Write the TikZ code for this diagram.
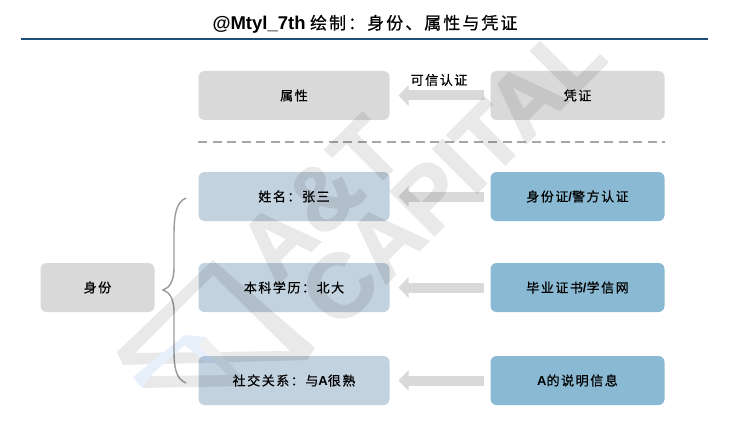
\documentclass[tikz,border=0pt]{standalone}
\usepackage{xcolor}
\usepackage{fontspec}
\setmainfont{Noto Sans CJK SC}[LetterSpace=12,FakeBold=0.6]
\newfontfamily\latfont{Liberation Sans Bold}
\newfontfamily\markfont{Liberation Sans Bold}[FakeBold=2]
\usetikzlibrary{arrows.meta,positioning}
\definecolor{Rule}{HTML}{1F4E79}
\definecolor{GreyF}{HTML}{D9D9D9}
\definecolor{PaleF}{HTML}{C3D2DF}
\definecolor{BlueF}{HTML}{8ABAD3}
\definecolor{Brace}{HTML}{999999}
\definecolor{Mark}{HTML}{E9E9E9}
\definecolor{MarkB}{HTML}{E6EFFA}

\begin{document}
\begin{tikzpicture}[x=1pt,y=-1pt,font=\fontsize{13}{15}\selectfont,
    box/.style={rounded corners=6pt,minimum height=49pt,text=black,inner sep=0pt,outer sep=0pt},
    attr/.style={box,fill=PaleF,minimum width=191pt},
    cred/.style={box,fill=BlueF,minimum width=174pt},
    plain/.style={box,fill=GreyF},
    flow/.style={line width=10pt,color=GreyF,-{Triangle[length=10pt,width=20pt]},shorten <=7pt,shorten >=9pt},
    wmark/.style={font=\fontsize{90}{90}\selectfont\markfont,text=Mark,rotate=45}]
  \useasboundingbox (0,0) rectangle (733,433);
  % title
  \node (title) at (365,24) {{\fontsize{18.5}{20}\selectfont\latfont @Mtyl\_7th}\ \fontsize{17}{20}\selectfont 绘制：身份、属性与凭证};
  \coordinate (ruleL) at (21,39.5);
  \coordinate (ruleR) at (708,39.5);
  \draw[Rule,line width=2pt] (ruleL) -- (ruleR);
  % boxes
  \node[plain,minimum width=191pt] (attrTop) at (294,95.5) {属性};
  \node[plain,minimum width=174pt,right=101pt of attrTop] (credTop) {凭证};
  \node[attr,below=52pt of attrTop] (name) {姓名：张三};
  \node[attr,below=42pt of name] (degree) {本科学历：北大};
  \node[attr,below=44pt of degree] (social) {社交关系：与{\latfont A}很熟};
  \node[cred,right=101pt of name] (idcard) {身份证{\latfont /}警方认证};
  \node[cred,right=101pt of degree] (diploma) {毕业证书{\latfont /}学信网};
  \node[cred,right=101pt of social] (proof) {{\latfont A}的说明信息};
  \node[plain,minimum width=114pt,left=44pt of degree] (identity) {身份};
  % arrows
  \draw[flow] (credTop) -- (attrTop);
  \draw[flow] (idcard) -- (name);
  \draw[flow] (diploma) -- (degree);
  \draw[flow] (proof) -- (social);
  \node at (439,80) (trust) {可信认证};
  % dashed separator
  \coordinate (sepL) at (198,142);
  \coordinate (sepR) at (665,142);
  \draw[gray!70,line width=1.6pt,dash pattern=on 9pt off 5.5pt] (sepL) -- (sepR);
  % brace
  \coordinate (braceT) at (186,198);
  \coordinate (braceM) at (163,290);
  \coordinate (braceB) at (186,383);
  \draw[Brace,line width=1.4pt] (braceT) .. controls (176,202) and (174,215) .. (174,235)
    -- (174,268) .. controls (174,280) and (170,288) .. (braceM)
    .. controls (170,292) and (174,300) .. (174,312) -- (174,350)
    .. controls (174,368) and (176,379) .. (braceB);
  % watermark
  \begin{scope}[blend mode=multiply,transparency group]
    \node[wmark] (markA) at (320,199) {A\&T};
    \node[wmark] (markB) at (452,174) {CAPITAL};
    \fill[Mark,even odd rule] (213,260) -- (315,348) -- (307,360) -- (123,365) -- (117,352) -- cycle
      (213,275) -- (135,353) -- (290,351) -- cycle;
    \fill[Mark] (142,388) -- (150,376) -- (240,375) -- (246,386) -- cycle;
    \fill[Mark!70!white] (205,336) -- (240,375) -- (228,375) -- (197,345) -- cycle;
    \fill[MarkB] (133,377) -- (185,335) -- (205,337) -- (197,345) -- (215,362) -- (205,362) -- (185,345) -- (150,376) -- (142,388) -- cycle;
  \end{scope}
\end{tikzpicture}
\end{document}
